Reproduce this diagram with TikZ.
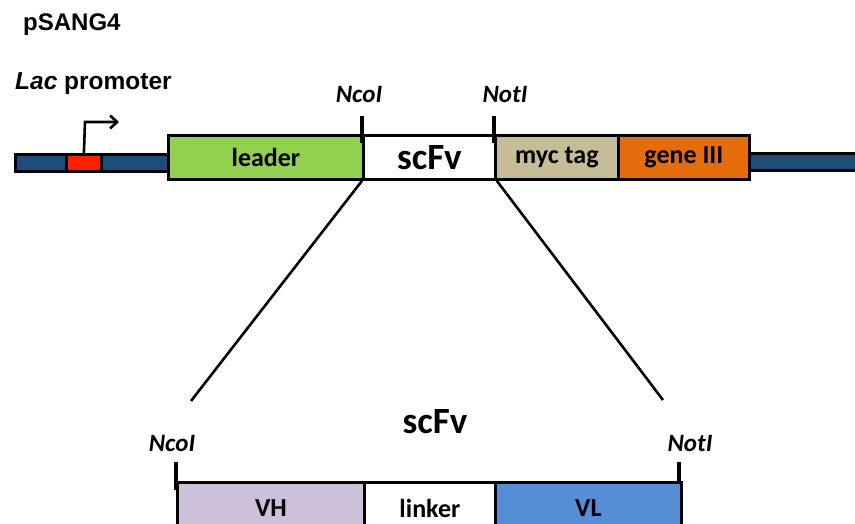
\documentclass[tikz,border=0pt]{standalone}
\usepackage{fontspec}
\setmainfont{Carlito}
\newfontfamily\arialfont{Liberation Sans}
\usetikzlibrary{arrows.meta}
\definecolor{bbar}{RGB}{31,77,122}
\definecolor{promred}{RGB}{255,32,0}
\definecolor{leadgreen}{RGB}{146,208,80}
\definecolor{myctan}{RGB}{196,189,151}
\definecolor{g3orange}{RGB}{228,108,10}
\definecolor{vhpurple}{RGB}{204,192,218}
\definecolor{vlblue}{RGB}{85,142,213}
\tikzset{
  seg/.style={draw=black, line width=2.8pt, inner sep=0pt, anchor=north west, font=\fontsize{26}{30}\selectfont\bfseries},
  bar/.style={draw=black, line width=2.8pt, inner sep=0pt, anchor=north west, fill=bbar},
  site/.style={anchor=base, font=\fontsize{25}{30}\selectfont\bfseries\itshape},
  tick/.style={line width=3.2pt},
  zoomline/.style={line width=2.6pt},
}
\begin{document}
\begin{tikzpicture}[x=1pt,y=-1pt]
\useasboundingbox (0,0) rectangle (855,524);
% title
\node[anchor=base west, inner sep=0pt, font=\arialfont\fontsize{24}{28}\selectfont\bfseries] (title) at (23,31) {pSANG4};
\node[anchor=base west, inner sep=0pt, font=\arialfont\fontsize{24.5}{28}\selectfont\bfseries] (lac) at (15,90) {\textit{Lac} promoter};
% backbone
\node[bar, minimum width=153pt, minimum height=17pt] (lbar) at (14,153) {};
\node[draw=black, line width=2.8pt, inner sep=0pt, anchor=north west, fill=promred, minimum width=35pt, minimum height=17pt] (prom) at (65,153) {};
\node[bar, minimum width=110pt, minimum height=17pt] (rbar) at (748,152) {};
% segments
\node[seg, fill=leadgreen, minimum width=195pt, minimum height=44pt] (leader) at (167,134) {leader};
\node[seg, fill=white, minimum width=132pt, minimum height=44pt, font=\fontsize{37}{40}\selectfont\bfseries] (scfv) at (362,134) {scFv};
\node[seg, fill=myctan, minimum width=123pt, minimum height=44pt] (myc) at (494,134) {myc tag};
\node[seg, fill=g3orange, minimum width=131pt, minimum height=44pt] (g3) at (617,134) {gene III};
% promoter arrow
\coordinate (pbend) at (85,122);
\coordinate (ptip) at (119,122);
\draw[line width=2.6pt, -{Straight Barb[length=7pt,width=13pt,line width=2.6pt]}] (prom.north) -- (pbend) -- (ptip);
% sites top
\node[site] (nco1) at (359,103) {NcoI};
\node[site] (not1) at (505,103) {NotI};
\coordinate (nco1t) at (362,116);
\coordinate (nco1b) at (362,143);
\coordinate (not1t) at (494,116);
\coordinate (not1b) at (494,143);
\draw[tick] (nco1t) -- (nco1b);
\draw[tick] (not1t) -- (not1b);
% zoom lines
\coordinate (zl) at (191,401);
\coordinate (zr) at (663,400);
\draw[zoomline] (scfv.south west) -- (zl);
\draw[zoomline] (scfv.south east) -- (zr);
% bottom
\node[anchor=base, font=\fontsize{37}{40}\selectfont\bfseries] (scfv2) at (435,433) {scFv};
\node[site] (nco2) at (172,451) {NcoI};
\node[site] (not2) at (690,451) {NotI};
\node[seg, fill=vhpurple, minimum width=187pt, minimum height=52pt] (vh) at (176,481) {VH};
\node[seg, fill=white, minimum width=131pt, minimum height=52pt] (linker) at (363,481) {linker};
\node[seg, fill=vlblue, minimum width=186pt, minimum height=52pt] (vl) at (494,481) {VL};
\coordinate (nco2t) at (176,462);
\coordinate (nco2b) at (176,490);
\coordinate (not2t) at (679,462);
\coordinate (not2b) at (679,482);
\draw[tick] (nco2t) -- (nco2b);
\draw[tick] (not2t) -- (not2b);
\end{tikzpicture}
\end{document}
